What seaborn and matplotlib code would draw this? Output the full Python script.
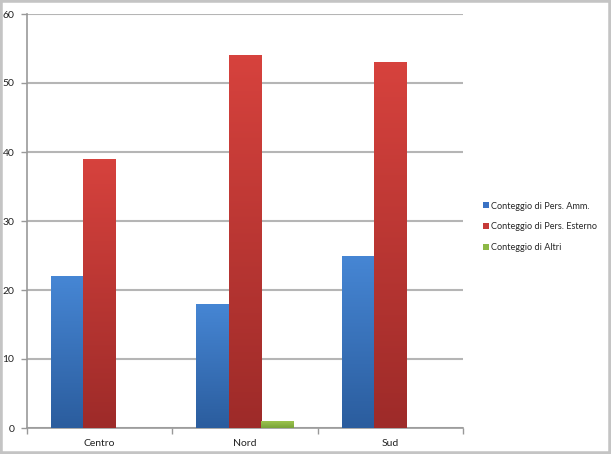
import matplotlib
matplotlib.use("Agg")
import matplotlib.pyplot as plt
import numpy as np
import pandas as pd
import seaborn as sns
from matplotlib.colors import LinearSegmentedColormap
from matplotlib.patches import Rectangle, Patch

categories = ["Centro", "Nord", "Sud"]
series = ["Conteggio di Pers. Amm.", "Conteggio di Pers. Esterno", "Conteggio di Altri"]
amm = [22, 18, 25]
esterno = [39, 54, 53]
altri = [0, 1, 0]
yticks = [0, 10, 20, 30, 40, 50, 60]

grad = {
    series[0]: ("#4686d4", "#2b5d9e"),
    series[1]: ("#d6423d", "#9e2b29"),
    series[2]: ("#9cc44e", "#78a238"),
}
legend_col = {series[0]: "#3a72c4", series[1]: "#c63a38", series[2]: "#8cb845"}

rows = []
for s, vals in zip(series, [amm, esterno, altri]):
    for c, v in zip(categories, vals):
        rows.append({"cat": c, "serie": s, "val": v})
df = pd.DataFrame(rows)

sns.set_theme(style="white")
plt.rcParams["font.family"] = ["Lato", "DejaVu Sans"]

W, H = 611, 454
fig = plt.figure(figsize=(W / 100, H / 100), dpi=100)
ax = fig.add_axes([27 / W, 1 - 428 / H, (463 - 27) / W, (428 - 14) / H])

sns.barplot(data=df, x="cat", y="val", hue="serie", order=categories,
            hue_order=series, palette=[legend_col[s] for s in series],
            width=0.67, ax=ax, legend=False, saturation=1, linewidth=0, zorder=3)

# gradient fill
for container, s in zip(ax.containers, series):
    top, bot = grad[s]
    cmap = LinearSegmentedColormap.from_list("g", [bot, top])
    for p in container:
        x0, y0 = p.get_x(), p.get_y()
        w, h = p.get_width(), p.get_height()
        if h <= 0:
            continue
        g = np.linspace(0, 1, 64).reshape(-1, 1)
        im = ax.imshow(g, cmap=cmap, aspect="auto", origin="lower",
                       extent=[x0, x0 + w, y0, y0 + h], zorder=3.5,
                       interpolation="bilinear")
        im.set_clip_path(p)
ax.set_xlim(-0.5, 2.5)
ax.set_ylim(0, 60)

ax.set_yticks(yticks)
ax.set_yticklabels([str(v) for v in yticks], fontsize=7.5, color="#222222")
ax.yaxis.grid(True, color="#b5b5b5", linewidth=1.5, zorder=0)
ax.set_axisbelow(True)

ax.set_xticks([-0.5, 0.5, 1.5, 2.5])
ax.set_xticklabels([])
ax.set_xticks([0, 1, 2], minor=True)
ax.set_xticklabels(categories, minor=True, fontsize=7.5, color="#222222")
ax.tick_params(axis="x", which="major", length=4, color="#999999", width=1, direction="out", bottom=True)
ax.tick_params(axis="x", which="minor", length=0, pad=8)
ax.tick_params(axis="y", length=4, color="#999999", width=1, direction="out", left=True, pad=5)
ax.set_xlabel("")
ax.set_ylabel("")

for sp in ["top", "right"]:
    ax.spines[sp].set_visible(False)
for sp in ["left", "bottom"]:
    ax.spines[sp].set_color("#999999")
    ax.spines[sp].set_linewidth(1.2)

handles = [Patch(facecolor=legend_col[s], edgecolor="none", label=s) for s in series]
fig.legend(handles=handles, loc="center left", bbox_to_anchor=(479 / W, 1 - 227 / H),
           frameon=False, fontsize=6.6, handlelength=0.65, handleheight=0.65,
           handletextpad=0.3, labelspacing=1.3, borderaxespad=0)

fig.patches.append(Rectangle((0, 0), 1, 1, transform=fig.transFigure, fill=False,
                             edgecolor="#c4c4c4", linewidth=4, zorder=10))

fig.savefig("out.png", dpi=100)
